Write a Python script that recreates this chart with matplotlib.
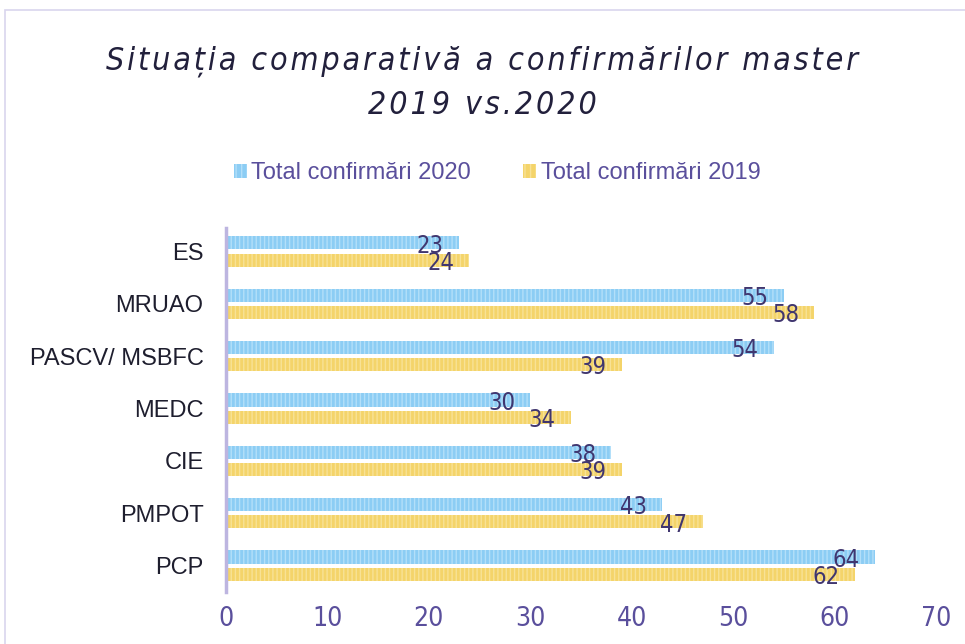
import numpy as np
import matplotlib.pyplot as plt
from matplotlib.patches import Rectangle, Patch

categories = ['ES', 'MRUAO', 'PASCV/ MSBFC', 'MEDC', 'CIE', 'PMPOT', 'PCP']
total_2020 = [23, 55, 54, 30, 38, 43, 64]
total_2019 = [24, 58, 39, 34, 39, 47, 62]

blue = '#8ccdf4'
blue_h = '#b3dff9'
yellow = '#f4d46a'
yellow_h = '#f8e296'
purple = '#5a4f9c'
dark = '#40366f'

plt.rcParams['hatch.linewidth'] = 1.0

fig = plt.figure(figsize=(9.65, 6.44), dpi=100)
ax = fig.add_axes([0.234, 0.081, 0.736, 0.565])

y = np.arange(len(categories))
h = 0.25
off = 0.165

ax.barh(y - off, total_2020, height=h, color=blue, edgecolor=blue_h, hatch='||||', linewidth=0)
ax.barh(y + off, total_2019, height=h, color=yellow, edgecolor=yellow_h, hatch='||||', linewidth=0)

for i, v in enumerate(total_2020):
    ax.text(v - 1.5, y[i] - off + 0.05, str(v), ha='right', va='center', fontsize=17,
            color=dark, fontstretch='condensed')
for i, v in enumerate(total_2019):
    ax.text(v - 1.5, y[i] + off + 0.05, str(v), ha='right', va='center', fontsize=17,
            color=dark, fontstretch='condensed')

ax.set_xlim(0, 70)
ax.set_ylim(6.5, -0.45)
ax.set_xticks(range(0, 71, 10))
ax.set_yticks(y)
ax.set_yticklabels(categories, fontsize=17, color='#1e1e2e', family='Liberation Sans')
ax.tick_params(axis='both', length=0)
ax.tick_params(axis='y', pad=16)
ax.tick_params(axis='x', pad=10)
for lab in ax.get_xticklabels():
    lab.set_fontsize(19)
    lab.set_color(purple)
    lab.set_fontstretch('condensed')
for s in ['top', 'right', 'bottom']:
    ax.spines[s].set_visible(False)
ax.spines['left'].set_color('#bdb5e0')
ax.spines['left'].set_linewidth(2.5)

hs = '\u200a'
line1 = 'Situația comparativă a confirmărilor master'
line2 = '2019 vs.2020'
title_kw = dict(ha='center', va='center', fontsize=23, style='italic', fontstretch='condensed',
                color='#22203c', fontweight='light')
fig.text(0.5, 0.905, hs.join(line1), **title_kw)
fig.text(0.5, 0.836, hs.join(line2), **title_kw)

handles = [Patch(facecolor=blue, edgecolor=blue_h, hatch='|||', linewidth=0),
           Patch(facecolor=yellow, edgecolor=yellow_h, hatch='|||', linewidth=0)]
leg = fig.legend(handles, ['Total confirmări 2020', 'Total confirmări 2019'],
                 loc='center', bbox_to_anchor=(0.515, 0.731), ncol=2, frameon=False,
                 handlelength=0.55, handleheight=0.55, handletextpad=0.2, columnspacing=2.2,
                 prop={'family': 'Liberation Sans', 'size': 17})
for t in leg.get_texts():
    t.set_color(purple)

fig.patches.append(Rectangle((0.005, -0.05), 1.2, 1.035, transform=fig.transFigure,
                             fill=False, edgecolor='#d9d5ee', linewidth=1.2))

fig.savefig('out.png', dpi=100)
